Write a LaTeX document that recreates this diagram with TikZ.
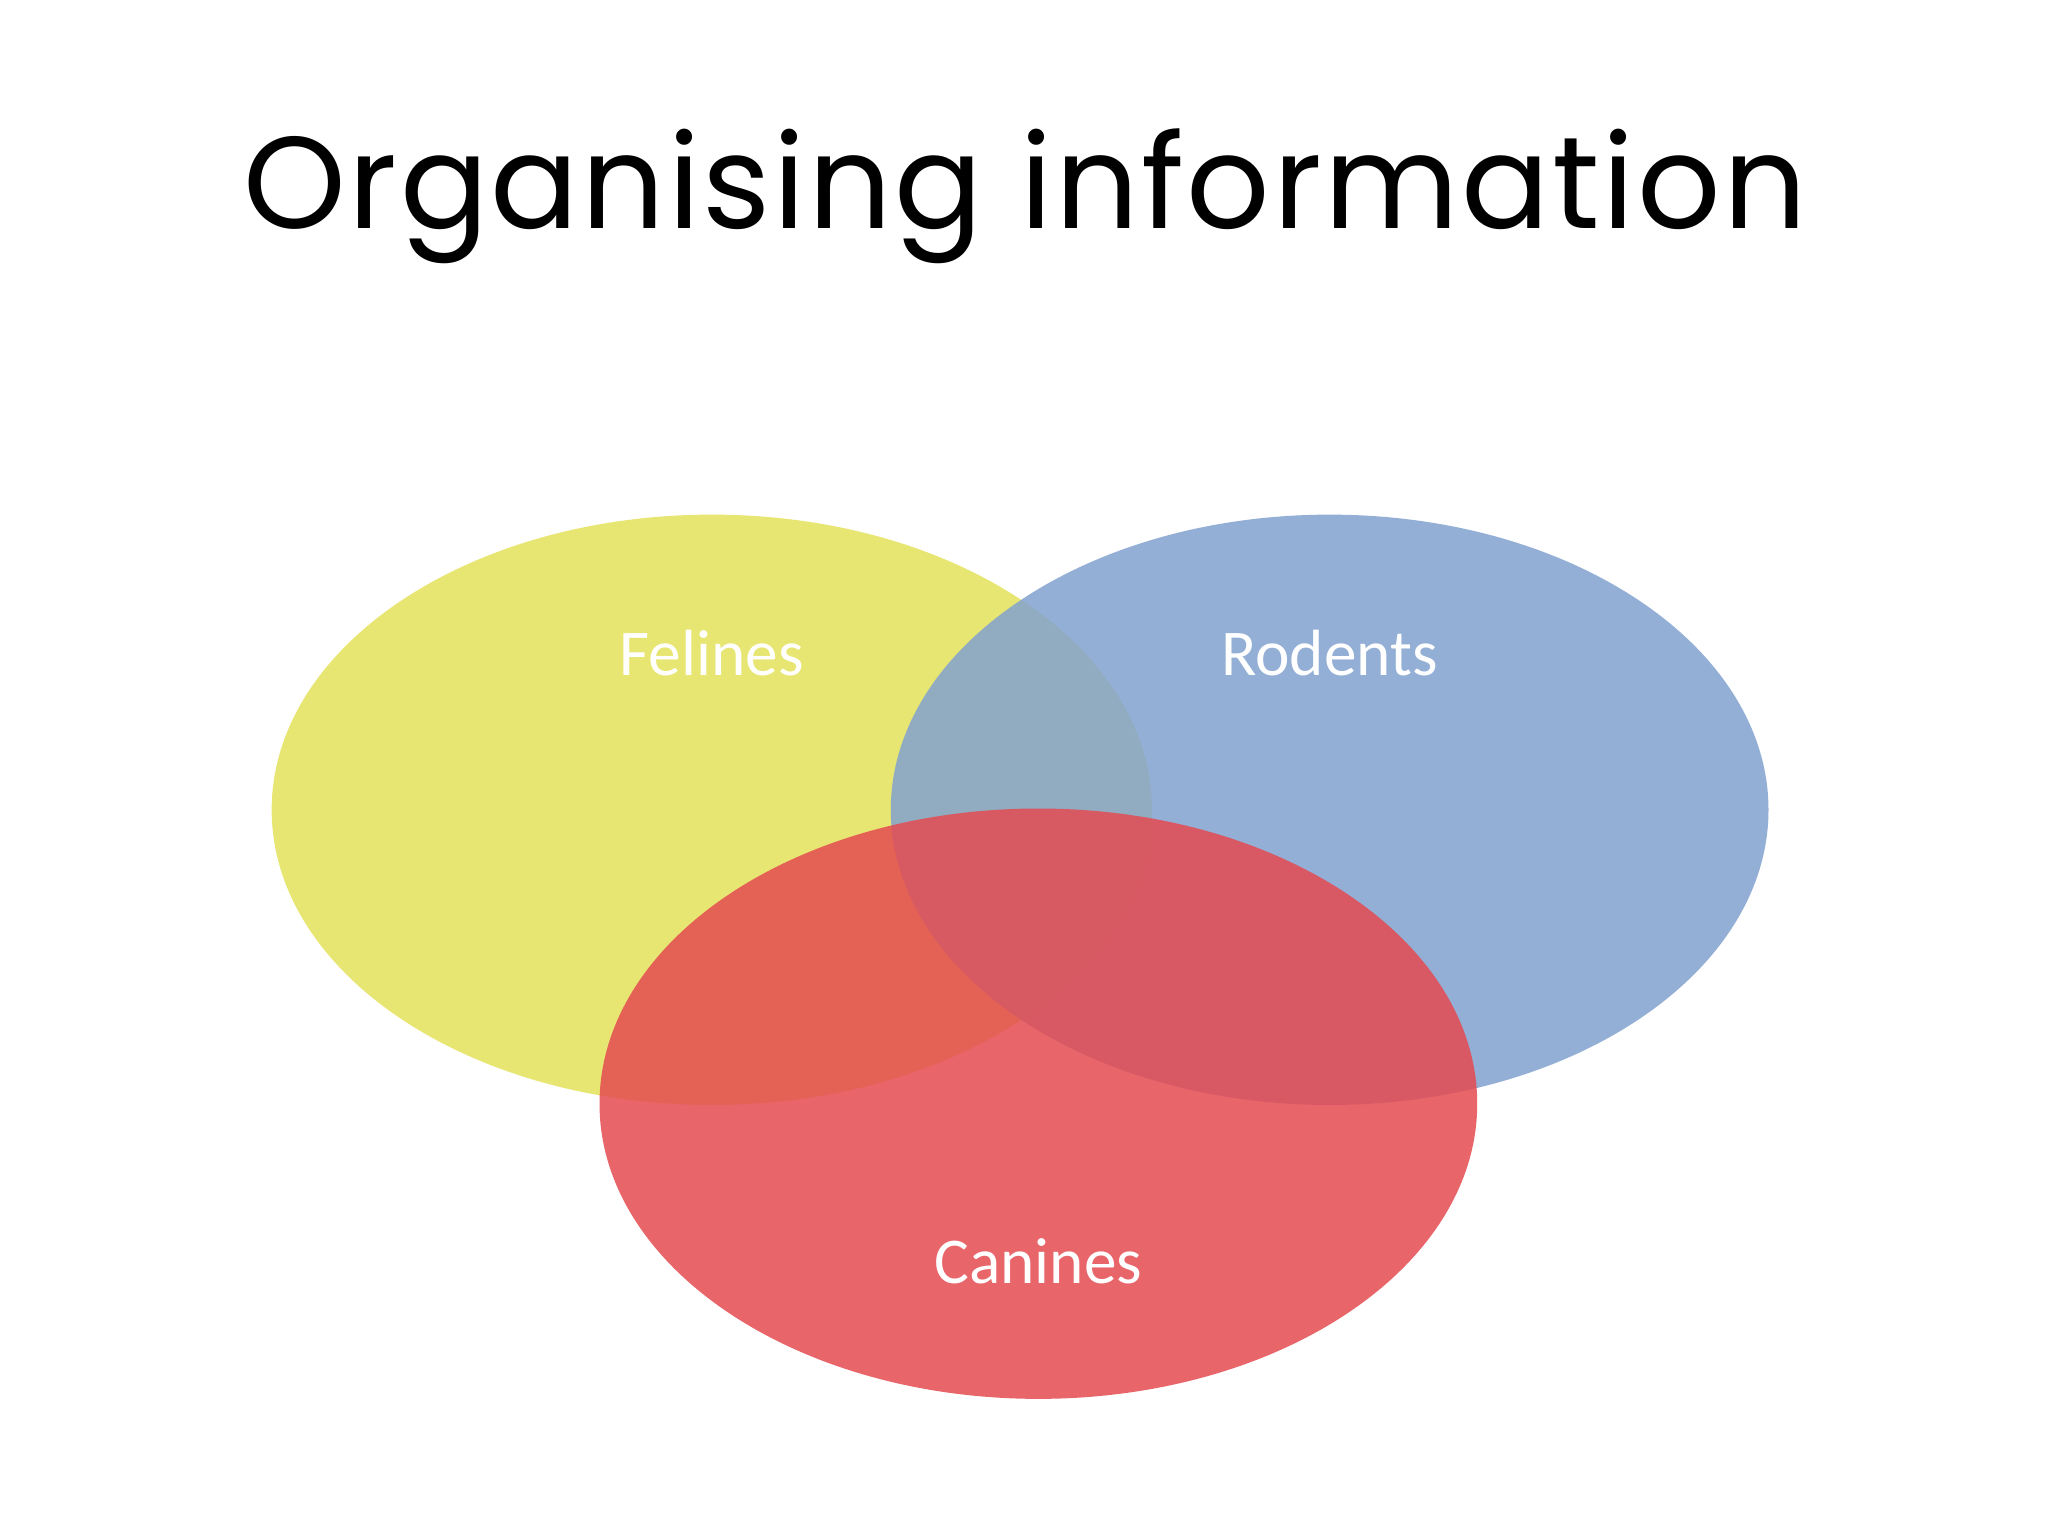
\documentclass[tikz,border=0pt]{standalone}
\usepackage{fontspec}
\setmainfont{Poppins}
\newfontfamily\lab{Carlito}
\definecolor{cy}{RGB}{229,226,90}
\definecolor{cb}{RGB}{130,162,207}
\definecolor{cr}{RGB}{228,75,81}
\begin{document}
\begin{tikzpicture}[x=1pt,y=-1pt,
  venn/.style={fill opacity=0.85,draw=none},
  lbl/.style={text=white,font=\lab\fontsize{50}{60}\selectfont,anchor=base}]
\useasboundingbox (0,0) rectangle (1568,1176);
\fill[white] (0,0) rectangle (1568,1176);
\node[font=\fontsize{100}{120}\selectfont\addfontfeature{LetterSpace=2}] (title) at (785,150) {Organising information};
\fill[venn,cy] (545,620) ellipse [x radius=337,y radius=226];
\fill[venn,cb] (1018,620) ellipse [x radius=336,y radius=226];
\fill[venn,cr] (795,845) ellipse [x radius=336,y radius=226];
\node[lbl] (fel) at (545,517) {Felines};
\node[lbl] (rod) at (1018,517) {Rodents};
\node[lbl] (can) at (795,983) {Canines};
\end{tikzpicture}
\end{document}
